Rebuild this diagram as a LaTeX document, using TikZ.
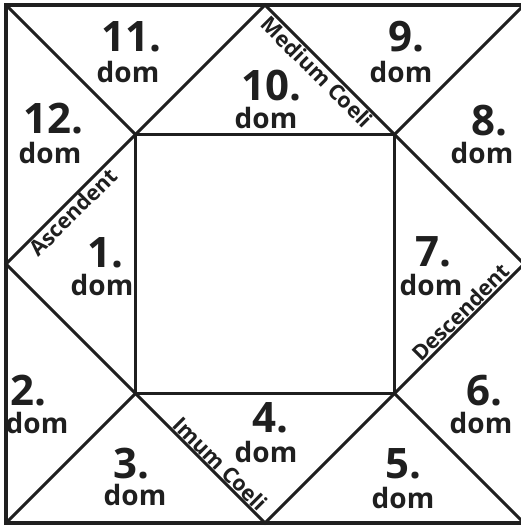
\documentclass[tikz,border=0pt]{standalone}
\usepackage{fontspec}
\setmainfont{Open Sans}
\begin{document}
\begin{tikzpicture}[x=1pt,y=-1pt,
  ink/.style={draw=black!88, line width=3pt, line cap=round, line join=miter},
  frame/.style={draw=black!88, line width=4.2pt},
  num/.style={anchor=base, inner sep=0pt, text=black!88, font=\fontsize{42}{42}\selectfont\bfseries},
  domlbl/.style={anchor=base, inner sep=0pt, text=black!88, font=\fontsize{28}{28}\selectfont\bfseries},
  axis/.style={sloped, inner sep=2pt, text=black!88, font=\fontsize{21.5}{21.5}\selectfont\bfseries}]
\useasboundingbox (0,0) rectangle (521,527);
% named points
\coordinate (TL) at (6,5);
\coordinate (TR) at (524,5);
\coordinate (BR) at (524,523);
\coordinate (BL) at (6,523);
\coordinate (T) at (265,5);
\coordinate (R) at (524,264);
\coordinate (B) at (265,523);
\coordinate (L) at (6,264);
\coordinate (ia) at (135.5,134.5);
\coordinate (ib) at (394.5,134.5);
\coordinate (ic) at (394.5,393.5);
\coordinate (id) at (135.5,393.5);
% lines
\draw[ink] (T) -- (R) -- (B) -- (L) -- cycle;
\draw[ink] (ia) -- (ib) -- (ic) -- (id) -- cycle;
\draw[ink] (TL) -- (ia);
\draw[ink] (TR) -- (ib);
\draw[ink] (BR) -- (ic);
\draw[ink] (BL) -- (id);
\draw[frame] (TL) -- (TR) -- (BR) -- (BL) -- cycle;
% axis labels
\path (T) -- (ib) node[axis, below, pos=0.46] (mc) {Medium Coeli};
\path (L) -- (ia) node[axis, below, pos=0.46] (asc) {Ascendent};
\path (ic) -- (R) node[axis, above, pos=0.57] (dsc) {Descendent};
\path (id) -- (B) node[axis, above, pos=0.60] (ic2) {Imum Coeli};
% houses
\node[num] (n11) at (131,52) {11.};  \node[domlbl] (d11) at (128,82) {dom};
\node[num] (n12) at (53,133) {12.};  \node[domlbl] (d12) at (50,163) {dom};
\node[num] (n10) at (271,100) {10.}; \node[domlbl] (d10) at (266,128) {dom};
\node[num] (n9) at (406,52) {9.};    \node[domlbl] (d9) at (401,82) {dom};
\node[num] (n8) at (489,135) {8.};   \node[domlbl] (d8) at (482,163) {dom};
\node[num] (n1) at (105,267) {1.};   \node[domlbl] (d1) at (102,295) {dom};
\node[num] (n7) at (433,266) {7.};   \node[domlbl] (d7) at (431,295) {dom};
\node[num] (n2) at (28,405) {2.};    \node[domlbl] (d2) at (37,433) {dom};
\node[num] (n6) at (484,405) {6.};   \node[domlbl] (d6) at (481,433) {dom};
\node[num] (n3) at (131,478) {3.};   \node[domlbl] (d3) at (135,505) {dom};
\node[num] (n4) at (270,432) {4.};   \node[domlbl] (d4) at (266,462) {dom};
\node[num] (n5) at (403,478) {5.};   \node[domlbl] (d5) at (403,508) {dom};
\end{tikzpicture}
\end{document}
